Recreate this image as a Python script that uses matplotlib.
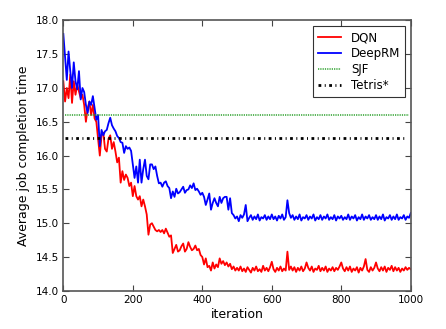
import numpy as np
import matplotlib
matplotlib.use("Agg")
import matplotlib.pyplot as plt

iteration = np.arange(0, 1001, 5)

dqn = [
    17.1, 16.8, 17.0, 16.85, 17.2, 16.78, 17.1, 16.9, 17.05, 16.95, 16.85, 16.9, 16.75, 16.5, 16.7, 16.8, 16.6, 16.75, 16.55, 16.5,
    16.25, 16.0, 16.3, 16.34, 16.1, 16.06, 16.25, 16.3, 16.1, 16.2, 16.06, 15.9, 15.97, 15.6, 15.77, 15.64, 15.72, 15.67, 15.55, 15.6,
    15.4, 15.55, 15.4, 15.35, 15.4, 15.25, 15.35, 15.25, 15.13, 14.83, 14.98, 15.0, 14.95, 14.9, 14.88, 14.9, 14.87, 14.9, 14.85, 14.92,
    14.86, 14.8, 14.82, 14.56, 14.62, 14.68, 14.58, 14.6, 14.66, 14.7, 14.58, 14.62, 14.72, 14.65, 14.6, 14.62, 14.67, 14.6, 14.62, 14.53,
    14.5, 14.39, 14.48, 14.35, 14.37, 14.3, 14.42, 14.33, 14.39, 14.35, 14.48, 14.4, 14.44, 14.38, 14.42, 14.36, 14.4, 14.32, 14.36, 14.3,
    14.34, 14.30, 14.36, 14.29, 14.33, 14.28, 14.35, 14.31, 14.27, 14.34, 14.30, 14.36, 14.29, 14.32, 14.28, 14.37, 14.30, 14.34, 14.29, 14.35,
    14.43, 14.32, 14.28, 14.34, 14.30, 14.36, 14.29, 14.33, 14.30, 14.58, 14.31, 14.36, 14.30, 14.35, 14.28, 14.34, 14.30, 14.36, 14.29, 14.33,
    14.42, 14.34, 14.30, 14.36, 14.28, 14.33, 14.31, 14.37, 14.29, 14.34, 14.30, 14.36, 14.28, 14.33, 14.30, 14.35, 14.29, 14.34, 14.31, 14.36,
    14.42, 14.33, 14.29, 14.35, 14.30, 14.36, 14.28, 14.33, 14.30, 14.35, 14.27, 14.34, 14.30, 14.36, 14.47, 14.31, 14.28, 14.35, 14.30, 14.34,
    14.42, 14.33, 14.29, 14.35, 14.30, 14.36, 14.28, 14.34, 14.31, 14.37, 14.29, 14.35, 14.30, 14.34, 14.28, 14.33, 14.30, 14.35, 14.31, 14.34,
    14.32,
]

deeprm = [
    17.8, 17.45, 17.12, 17.54, 17.25, 17.0, 17.38, 17.1, 16.98, 17.25, 16.83, 17.0, 16.94, 16.75, 16.63, 16.8, 16.75, 16.88, 16.7, 16.53,
    16.6, 16.14, 16.38, 16.3, 16.36, 16.38, 16.48, 16.56, 16.45, 16.4, 16.36, 16.29, 16.26, 16.2, 16.19, 16.04, 16.14, 16.1, 16.12, 16.07,
    15.87, 15.67, 15.84, 15.6, 15.94, 15.6, 15.8, 15.94, 15.7, 15.65, 15.87, 15.87, 15.8, 15.84, 15.7, 15.59, 15.6, 15.54, 15.6, 15.62,
    15.55, 15.52, 15.37, 15.47, 15.39, 15.51, 15.44, 15.46, 15.5, 15.54, 15.45, 15.49, 15.5, 15.56, 15.52, 15.59, 15.49, 15.51, 15.47, 15.42,
    15.45, 15.39, 15.27, 15.35, 15.44, 15.2, 15.3, 15.37, 15.3, 15.25, 15.39, 15.3, 15.37, 15.39, 15.39, 15.2, 15.37, 15.15, 15.12, 15.07,
    15.1, 15.03, 15.12, 15.08, 15.13, 15.27, 15.03, 15.08, 15.12, 15.05, 15.10, 15.06, 15.13, 15.04, 15.09, 15.07, 15.12, 15.05, 15.10, 15.06,
    15.13, 15.06, 15.10, 15.04, 15.11, 15.07, 15.13, 15.05, 15.09, 15.34, 15.15, 15.08, 15.12, 15.05, 15.10, 15.06, 15.13, 15.04, 15.09, 15.07,
    15.12, 15.05, 15.10, 15.07, 15.13, 15.04, 15.09, 15.06, 15.12, 15.05, 15.10, 15.07, 15.13, 15.05, 15.09, 15.06, 15.12, 15.04, 15.10, 15.07,
    15.11, 15.05, 15.09, 15.06, 15.13, 15.05, 15.10, 15.07, 15.12, 15.04, 15.09, 15.06, 15.13, 15.05, 15.10, 15.07, 15.12, 15.05, 15.09, 15.06,
    15.12, 15.05, 15.10, 15.06, 15.13, 15.04, 15.09, 15.07, 15.12, 15.05, 15.10, 15.06, 15.13, 15.05, 15.09, 15.07, 15.12, 15.05, 15.10, 15.08,
    15.15,
]

sjf = 16.6
tetris = 16.26

fig = plt.figure(figsize=(4.46, 3.29), dpi=100)
ax = fig.add_axes([0.142, 0.116, 0.779, 0.822])

ax.plot(iteration, dqn, color="red", lw=1.3, label="DQN")
ax.plot(iteration, deeprm, color="blue", lw=1.3, label="DeepRM")
ax.axhline(sjf, xmin=0.005, xmax=0.995, color="#2ca02c", lw=1.1, ls=(0, (0.8, 0.7)), label="SJF")
ax.axhline(tetris, xmin=0.005, xmax=0.99, color="black", lw=2, ls=(0, (1.0, 1.25, 0.35, 1.25)), label="Tetris*")

ax.set_xlim(0, 1000)
ax.set_ylim(14.0, 18.0)
ax.set_xticks([0, 200, 400, 600, 800, 1000])
ax.set_yticks(np.arange(14.0, 18.01, 0.5))
ax.tick_params(direction="in", top=True, right=True, labelsize=7.5, length=4, color="#444444", pad=3)
for s in ax.spines.values():
    s.set_color("#555555")
    s.set_linewidth(1.2)

ax.set_xlabel("iteration", fontsize=9, labelpad=2)
ax.set_ylabel("Average job completion time", fontsize=9, labelpad=4)

leg = ax.legend(loc="upper right", fontsize=8.5, frameon=True, fancybox=False,
                handlelength=2.0, borderpad=0.4, labelspacing=0.25, borderaxespad=0.5)
leg.get_frame().set_edgecolor("black")
leg.get_frame().set_linewidth(0.8)

fig.savefig("out.png", dpi=100)
